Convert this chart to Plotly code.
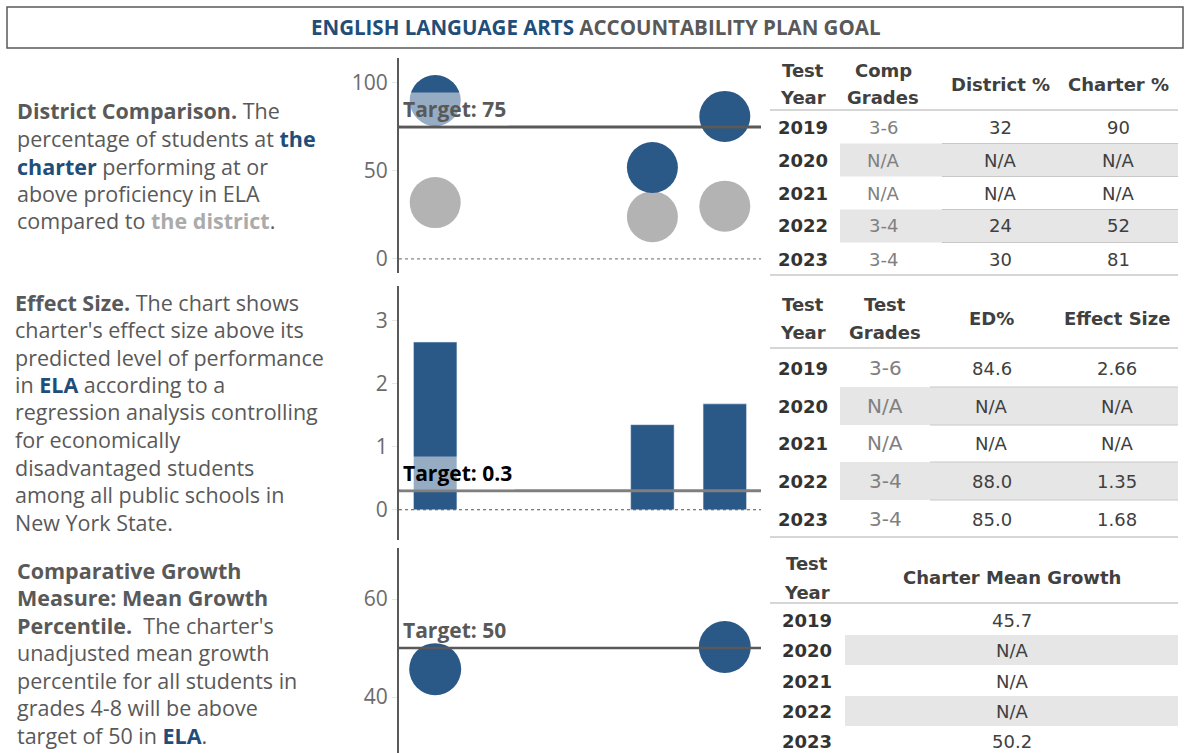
import plotly.graph_objects as go
from plotly.subplots import make_subplots

# data
years = ["2019", "2020", "2021", "2022", "2023"]
comp_grades = ["3-6", None, None, "3-4", "3-4"]
district_pct = [32, None, None, 24, 30]
charter_pct = [90, None, None, 52, 81]
test_grades = ["3-6", None, None, "3-4", "3-4"]
ed_pct = [84.6, None, None, 88.0, 85.0]
effect_size = [2.66, None, None, 1.35, 1.68]
mean_growth = [45.7, None, None, None, 50.2]
targets = [75, 0.3, 50]

BLUE = "#2B5987"
DGRAY = "#B3B3B3"
TXT = "#595959"
W, H = 1185, 753
BODY = "Open Sans"
TAB = "DejaVu Sans"


def px(x):
    return x / W


def py(y):
    return 1 - y / H


def fmt(v, f):
    return "N/A" if v is None else f.format(v)


def note(x, y, text, font, xanchor="center"):
    fig.add_annotation(xref="paper", yref="paper", x=px(x), y=py(y), xanchor=xanchor,
                       yanchor="middle", showarrow=False, text=text, font=font)


fig = make_subplots(rows=3, cols=1)

fig.add_trace(go.Scatter(x=years, y=district_pct, mode="markers",
                         marker=dict(size=51, color=DGRAY), name="District"), row=1, col=1)
fig.add_trace(go.Scatter(x=years, y=charter_pct, mode="markers",
                         marker=dict(size=51, color=BLUE), name="Charter"), row=1, col=1)
fig.add_trace(go.Bar(x=years, y=effect_size, width=0.6, marker_color=BLUE,
                     name="Effect Size"), row=2, col=1)
fig.add_trace(go.Scatter(x=years, y=mean_growth, mode="markers",
                         marker=dict(size=52, color=BLUE), name="Mean Growth"), row=3, col=1)

# axes
y_domains = [[py(273), py(58)], [py(540), py(286)], [0, py(548)]]
y_ranges = [[-8, 114.2], [-0.48, 3.55], [28.6, 70.4]]
y_ticks = [[0, 50, 100], [0, 1, 2, 3], [40, 60]]
for i in range(3):
    fig.update_xaxes(row=i + 1, col=1, domain=[px(399), px(761)], range=[-0.5, 4.5],
                     type="category", visible=False, categoryorder="array", categoryarray=years)
    fig.update_yaxes(row=i + 1, col=1, domain=y_domains[i], range=y_ranges[i],
                     tickvals=y_ticks[i], showgrid=False, zeroline=False,
                     showline=True, linecolor="#595959", linewidth=2,
                     ticks="outside", ticklen=5, tickcolor="#e6e6e6",
                     tickfont=dict(family=BODY, size=21, color="#6b6b6b"))

# target lines, zero lines, target labels
line_colors = ["#595959", "#7f7f7f", "#595959"]
label_colors = ["#595959", "#000000", "#595959"]
label_bg = ["rgba(255,255,255,0.5)", "rgba(255,255,255,0.5)", "rgba(0,0,0,0)"]
label_text = ["Target: 75", "Target: 0.3", "Target: 50"]
for i in range(3):
    xr = "x" if i == 0 else "x%d" % (i + 1)
    yr = "y" if i == 0 else "y%d" % (i + 1)
    if i < 2:
        fig.add_shape(type="line", xref=xr + " domain", yref=yr, x0=0, x1=1, y0=0, y1=0,
                      line=dict(color="#555555" if i else "#888888", width=1.2, dash="dot"))
    fig.add_shape(type="line", xref=xr + " domain", yref=yr, x0=0, x1=1,
                  y0=targets[i], y1=targets[i],
                  line=dict(color=line_colors[i], width=3 if i < 2 else 2.5))
    fig.add_annotation(xref=xr, yref=yr, x=-0.5, y=targets[i], xanchor="left", yanchor="bottom",
                       text="<b>%s</b>" % label_text[i], showarrow=False, bgcolor=label_bg[i],
                       borderpad=2, xshift=1, yshift=1,
                       font=dict(family=BODY, size=21, color=label_colors[i]))

# title box
fig.add_shape(type="rect", xref="paper", yref="paper", x0=px(7), x1=px(1183), y0=py(48), y1=py(7),
              line=dict(color="#595959", width=1.5))
note(596, 27, "<b><span style='color:#1F4E79'>ENGLISH LANGUAGE ARTS</span> ACCOUNTABILITY PLAN GOAL</b>",
     dict(family=BODY, size=20.5, color=TXT))

# left descriptions
B = "<b><span style='color:#1F4E79'>%s</span></b>"
para1 = ["<b>District Comparison.</b> The",
         "percentage of students at " + B % "the",
         B % "charter" + " performing at or",
         "above proficiency in ELA",
         "compared to <b><span style='color:#ABABAB'>the district</span></b>."]
para2 = ["<b>Effect Size.</b> The chart shows",
         "charter's effect size above its",
         "predicted level of performance",
         "in " + B % "ELA" + " according to a",
         "regression analysis controlling",
         "for economically",
         "disadvantaged students",
         "among all public schools in",
         "New York State."]
para3 = ["<b>Comparative Growth</b>",
         "<b>Measure: Mean Growth</b>",
         "<b>Percentile.</b>  The charter's",
         "unadjusted mean growth",
         "percentile for all students in",
         "grades 4-8 will be above",
         "target of 50 in " + B % "ELA" + "."]
for lines, x0, y0 in [(para1, 15, 111), (para2, 13, 302), (para3, 15, 570)]:
    for k, t in enumerate(lines):
        note(x0, y0 + 27.5 * k, t, dict(family=BODY, size=21.5, color=TXT), xanchor="left")


def table(headers, cols, centers, head_ys, head_mid, head_line, row_ys, half, shade_x,
          part_x, bottom, col2_size):
    for j, h in enumerate(headers):
        parts = h.split("\n")
        ys = head_ys if len(parts) == 2 else [head_mid]
        for p, yy in zip(parts, ys):
            note(centers[j], yy, "<b>%s</b>" % p, dict(family=TAB, size=18, color="#404040"))
    for k, yy in enumerate(row_ys):
        if k % 2 == 1:
            fig.add_shape(type="rect", xref="paper", yref="paper", layer="below",
                          x0=px(shade_x), x1=px(1178), y0=py(yy + half), y1=py(yy - half),
                          fillcolor="#E6E6E6", line_width=0)
            if part_x:
                for e in (yy - half, yy + half):
                    fig.add_shape(type="line", xref="paper", yref="paper",
                                  x0=px(part_x), x1=px(1178), y0=py(e), y1=py(e),
                                  line=dict(color="#C8C8C8", width=1.2))
        for j, c in enumerate(cols):
            if j == 0:
                f = dict(family=TAB, size=18, color="#333333")
                t = "<b>%s</b>" % c[k]
            elif j == 1 and len(cols) > 2:
                f = dict(family=TAB, size=col2_size, color="#808080")
                t = c[k]
            else:
                f = dict(family=TAB, size=18, color="#404040")
                t = c[k]
            note(centers[j], yy, t, f)
    for yy in (head_line, bottom):
        if yy:
            fig.add_shape(type="line", xref="paper", yref="paper", x0=px(770), x1=px(1178),
                          y0=py(yy), y1=py(yy), line=dict(color="#C8C8C8", width=1.5))


table(["Test\nYear", "Comp\nGrades", "District %", "Charter %"],
      [years, [fmt(v, "{}") for v in comp_grades], [fmt(v, "{}") for v in district_pct],
       [fmt(v, "{}") for v in charter_pct]],
      [803, 883, 1000, 1118], [70, 97], 84, 110, [128, 160, 193, 226, 259], 16.5, 840, 942, 275, 18)
table(["Test\nYear", "Test\nGrades", "ED%", "Effect Size"],
      [years, [fmt(v, "{}") for v in test_grades], [fmt(v, "{:.1f}") for v in ed_pct],
       [fmt(v, "{:.2f}") for v in effect_size]],
      [803, 885, 992, 1117], [304, 332], 318, 348, [368, 406, 443, 481, 519], 19, 840, 930, 537, 20)
table(["Test\nYear", "Charter Mean Growth"],
      [years, [fmt(v, "{:.1f}") for v in mean_growth]],
      [807, 1012], [563, 592], 577, 603, [620, 650, 681, 711, 741], 15, 845, None, None, 18)

fig.update_layout(width=W, height=H, margin=dict(l=0, r=0, t=0, b=0),
                  plot_bgcolor="white", paper_bgcolor="white", showlegend=False,
                  font=dict(family=BODY))
fig.write_html("out.html", config={"displayModeBar": False},
               post_script="document.body.style.margin='0';document.body.style.overflow='hidden';")
